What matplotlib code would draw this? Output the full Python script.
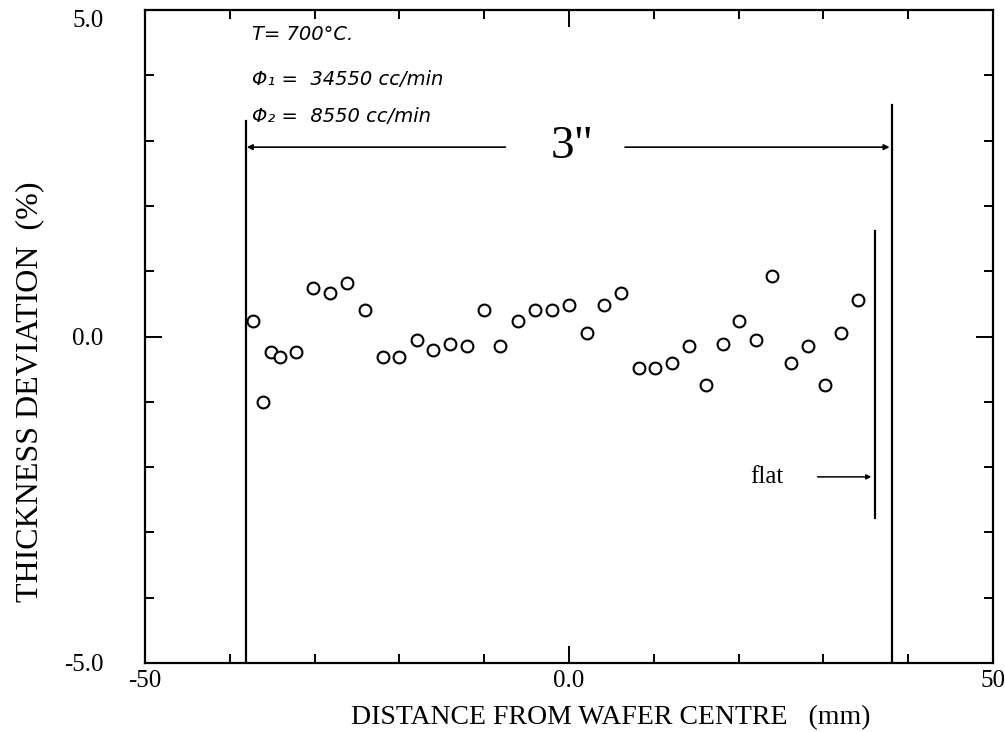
import matplotlib
matplotlib.use("Agg")
import matplotlib.pyplot as plt
from matplotlib.ticker import MultipleLocator, FixedLocator

# Radial position on the wafer (mm) and film thickness deviation (%)
position_mm = [-37.3, -36.1, -35.2, -34.1, -32.2, -30.2, -28.2, -26.2, -24.1,
               -21.9, -20.0, -17.9, -16.0, -14.0, -12.0, -10.0, -8.1, -6.0,
               -4.0, -2.0, 0.0, 2.1, 4.1, 6.1, 8.2, 10.1, 12.1, 14.1, 16.2,
               18.2, 20.0, 22.1, 23.9, 26.2, 28.2, 30.2, 32.1, 34.1]
deviation_pct = [0.23, -1.00, -0.23, -0.32, -0.23, 0.75, 0.67, 0.82, 0.40,
                 -0.32, -0.31, -0.05, -0.21, -0.12, -0.14, 0.40, -0.14, 0.23,
                 0.40, 0.40, 0.49, 0.05, 0.49, 0.67, -0.49, -0.49, -0.40,
                 -0.14, -0.75, -0.12, 0.23, -0.05, 0.93, -0.40, -0.14, -0.75,
                 0.05, 0.56]

x_ticks = [-50, 0, 50]
x_ticklabels = ["-50", "0.0", "50"]
y_ticks = [-5, 0, 5]
y_ticklabels = ["-5.0", "0.0", "5.0"]

wafer_edge = 38.1          # 3" wafer radius, mm
wafer_edge_top = (3.3, 3.55)
flat_x = 36.1
flat_span = (-2.78, 1.62)

serif = "Liberation Serif"
plt.rcParams["font.family"] = serif

fig = plt.figure(figsize=(10.05, 7.32), dpi=100)
ax = fig.add_axes([0.1443, 0.0943, 0.8438, 0.892])

ax.plot(position_mm, deviation_pct, linestyle="none", marker="o",
        markersize=8.5, markerfacecolor="white", markeredgecolor="black",
        markeredgewidth=1.5, zorder=3)

ax.set_xlim(-50, 50)
ax.set_ylim(-5, 5)

for s in ax.spines.values():
    s.set_linewidth(1.6)

ax.xaxis.set_major_locator(FixedLocator(x_ticks))
ax.set_xticklabels(x_ticklabels)
ax.xaxis.set_minor_locator(MultipleLocator(10))
ax.yaxis.set_major_locator(FixedLocator(y_ticks))
ax.set_yticklabels(y_ticklabels)
ax.yaxis.set_minor_locator(MultipleLocator(1))
ax.tick_params(which="both", direction="in", top=True, right=True, width=1.4)
ax.tick_params(which="major", length=12)
ax.tick_params(which="minor", length=6.5)
ax.tick_params(axis="x", which="major", labelsize=18, pad=5)
ax.tick_params(axis="y", which="major", labelsize=18, pad=30)
ax.get_yticklabels()[2].set_va("top")

# Wafer edges and diameter marker
ax.plot([-wafer_edge, -wafer_edge], [-5, wafer_edge_top[0]], color="black", lw=1.6)
ax.plot([wafer_edge, wafer_edge], [-5, wafer_edge_top[1]], color="black", lw=1.6)
arrow_y = 2.90
ax.annotate("", xy=(-wafer_edge + 0.1, arrow_y), xytext=(-7.5, arrow_y),
            arrowprops=dict(arrowstyle="-|>", color="black", lw=1.2,
                            mutation_scale=8, shrinkA=0, shrinkB=0))
ax.annotate("", xy=(wafer_edge - 0.3, arrow_y), xytext=(6.6, arrow_y),
            arrowprops=dict(arrowstyle="-|>", color="black", lw=1.2,
                            mutation_scale=8, shrinkA=0, shrinkB=0))
ax.text(0.35, arrow_y, '3"', fontsize=34, ha="center", va="center")

# Wafer flat
ax.plot([flat_x, flat_x], list(flat_span), color="black", lw=1.6)
ax.annotate("", xy=(flat_x - 0.45, -2.15), xytext=(29.3, -2.15),
            arrowprops=dict(arrowstyle="-|>", color="black", lw=1.1,
                            mutation_scale=7, shrinkA=0, shrinkB=0))
ax.text(23.3, -2.15, "flat", fontsize=18, ha="center", va="center")

# Process conditions
hand = dict(family="DejaVu Sans", style="italic", fontsize=14, ha="left",
            va="center", fontweight="light")
ax.text(-37.4, 4.63, "T= 700°C.", **hand)
ax.text(-37.4, 3.94, "Φ\u2081 =  34550 cc/min", **hand)
ax.text(-37.4, 3.37, "Φ\u2082 =  8550 cc/min", **hand)

fig.text(30 / 1005, 1 - 392 / 732, "THICKNESS DEVIATION  (%)", rotation=90,
         ha="center", va="center", fontsize=23)
fig.text(611 / 1005, 1 - 718 / 732, "DISTANCE FROM WAFER CENTRE   (mm)",
         ha="center", va="center", fontsize=20)

fig.savefig("out.png", dpi=100, facecolor="white")
